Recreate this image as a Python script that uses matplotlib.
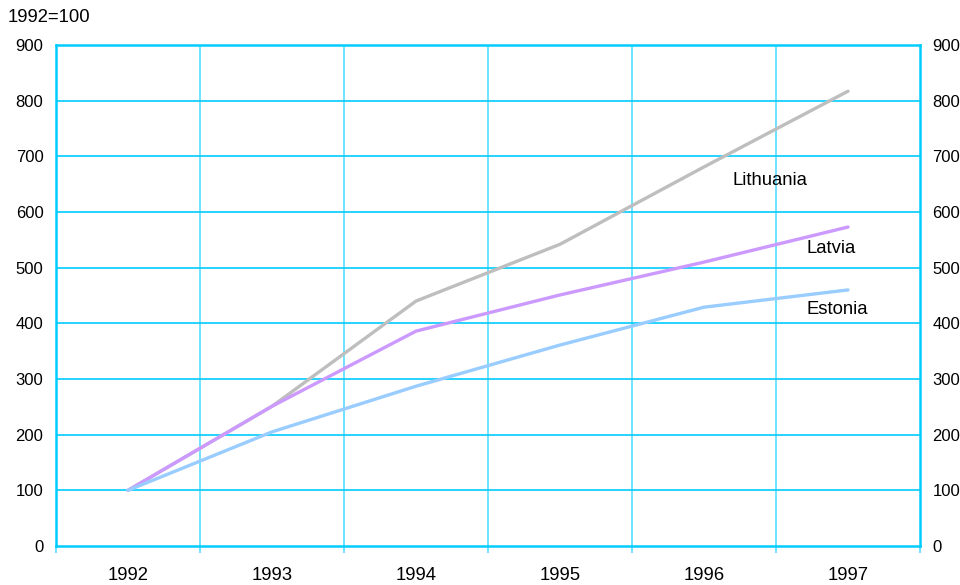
import matplotlib
matplotlib.use('Agg')
import matplotlib.pyplot as plt
from matplotlib.ticker import FixedLocator, NullFormatter

plt.rcParams['font.family'] = ['Liberation Sans', 'DejaVu Sans']

years = ['1992', '1993', '1994', '1995', '1996', '1997']
lithuania = [100, 251, 440, 542, 681, 817]
latvia = [100, 251, 386, 451, 510, 573]
estonia = [100, 205, 287, 361, 429, 460]
yticks = [0, 100, 200, 300, 400, 500, 600, 700, 800, 900]

grid_col = '#00ccff'

fig = plt.figure(figsize=(9.6, 5.85), dpi=100)
ax = fig.add_axes([56/960, 39/585, 864/960, 501/585])
x = list(range(len(years)))

# lines, one per country
ax.plot(x, lithuania, color='#bebebe', lw=2.4, solid_capstyle='round', zorder=3)
ax.plot(x, latvia, color='#cc99ff', lw=2.4, solid_capstyle='round', zorder=3)
ax.plot(x, estonia, color='#99ccff', lw=2.4, solid_capstyle='round', zorder=3)

ax.text(4.2, 657, 'Lithuania', fontsize=13.3, va='center', ha='left')
ax.text(4.71, 535, 'Latvia', fontsize=13.3, va='center', ha='left')
ax.text(4.71, 424, 'Estonia', fontsize=13.3, va='center', ha='left')

ax.set_xlim(-0.5, len(years) - 0.5)
ax.set_ylim(0, 900)

# gridlines at category boundaries
for b in range(1, len(years)):
    ax.axvline(b - 0.5, color='#55ddff', lw=1.2, zorder=1)
for t in yticks[1:-1]:
    ax.axhline(t, color=grid_col, lw=1.2, zorder=1)

ax.xaxis.set_major_locator(FixedLocator([i - 0.5 for i in range(len(years) + 1)]))
ax.xaxis.set_major_formatter(NullFormatter())
ax.set_xticks(x, minor=True)
ax.set_xticklabels(years, minor=True, fontsize=13.3)
ax.tick_params(axis='x', which='major', length=5, width=1.2, color='#55ddff', direction='out')
ax.tick_params(axis='x', which='minor', length=0, pad=15)

ax.set_yticks(yticks)
ax.set_yticklabels([str(t) for t in yticks], fontsize=12)
ax.tick_params(axis='y', length=0, pad=9, labelright=True, labelleft=True)

for s in ax.spines.values():
    s.set_color(grid_col)
    s.set_linewidth(1.8)

fig.text(8/960, 1 - 17/585, '1992=100', fontsize=13.3, va='center', ha='left')

fig.savefig('out.png', dpi=100)
